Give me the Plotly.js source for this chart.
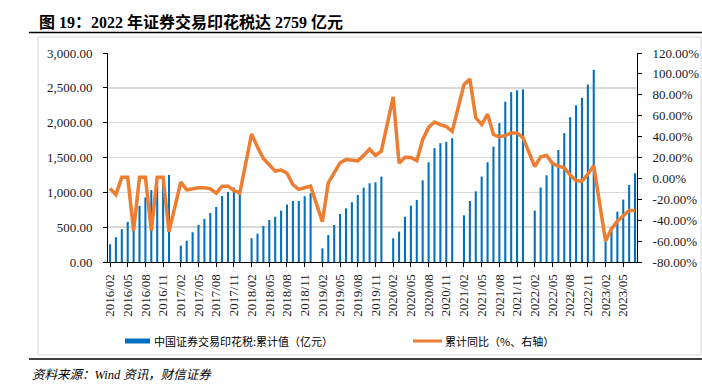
<!DOCTYPE html>
<html>
<head>
<meta charset="utf-8">
<script src="https://cdn.plot.ly/plotly-3.0.1.min.js"></script>
<style>
html,body{margin:0;padding:0;background:#fff;}
#chart{width:702px;height:385px;}
</style>
</head>
<body>
<div id="chart"></div>
<script>
// Months (category axis), January has no data (Jan-Feb reported together)
const months = [
 "2016/02","2016/03","2016/04","2016/05","2016/06","2016/07","2016/08","2016/09","2016/10","2016/11","2016/12",
 "2017/01","2017/02","2017/03","2017/04","2017/05","2017/06","2017/07","2017/08","2017/09","2017/10","2017/11","2017/12",
 "2018/01","2018/02","2018/03","2018/04","2018/05","2018/06","2018/07","2018/08","2018/09","2018/10","2018/11","2018/12",
 "2019/01","2019/02","2019/03","2019/04","2019/05","2019/06","2019/07","2019/08","2019/09","2019/10","2019/11","2019/12",
 "2020/01","2020/02","2020/03","2020/04","2020/05","2020/06","2020/07","2020/08","2020/09","2020/10","2020/11","2020/12",
 "2021/01","2021/02","2021/03","2021/04","2021/05","2021/06","2021/07","2021/08","2021/09","2021/10","2021/11","2021/12",
 "2022/01","2022/02","2022/03","2022/04","2022/05","2022/06","2022/07","2022/08","2022/09","2022/10","2022/11","2022/12",
 "2023/01","2023/02","2023/03","2023/04","2023/05","2023/06","2023/07"
];

// 中国证券交易印花税:累计值（亿元）
const stampTaxCum = [
 255, 356, 471, 576, 690, 806, 927, 1032, 1100, 1180, 1250,
 null, 234, 306, 427, 532, 618, 704, 790, 948, 1006, 1068, 985,
 null, 341, 407, 517, 603, 651, 737, 825, 876, 876, 944, 987,
 null, 197, 388, 532, 690, 771, 858, 963, 1068, 1130, 1145, 1226,
 null, 340, 436, 651, 809, 891, 1173, 1432, 1634, 1705, 1726, 1777,
 null, 670, 876, 1015, 1226, 1432, 1657, 1993, 2301, 2438, 2465, 2478,
 null, 737, 1070, 1245, 1399, 1609, 1849, 2079, 2250, 2356, 2548, 2759,
 null, 295, 488, 723, 896, 1106, 1274
];

// 累计同比（%、右轴）
const yoyCum = [
 -9.5, -15.5, 1, 1, -50, 1, 1, -50, 1, 1, -51,
 null, -3.6, -11, -10, -9, -9, -10, -14, -7.4, -7.4, -11.5, -14,
 null, 42.5, 30, 19, 13, 7, 8, 5, -6, -10.5, -9, -7.4,
 null, -41.5, -4.2, 5.3, 15, 18, 17.2, 16.8, 22, 28, 22, 26,
 null, 78, 14.6, 20.2, 20, 17, 37, 48.8, 54, 51.5, 49.7, 45,
 null, 89.7, 95, 58, 51.5, 61.5, 42, 39.7, 41, 43.5, 43.5, 39,
 null, 11.3, 20.6, 22, 14.5, 11.7, 10.1, 3.2, -2, -2.7, 4, 12,
 null, -60, -48.4, -41, -35.7, -30.6, -30.6
];

const xTickVals = [
 "2016/02","2016/05","2016/08","2016/11","2017/02","2017/05","2017/08","2017/11",
 "2018/02","2018/05","2018/08","2018/11","2019/02","2019/05","2019/08","2019/11",
 "2020/02","2020/05","2020/08","2020/11","2021/02","2021/05","2021/08","2021/11",
 "2022/02","2022/05","2022/08","2022/11","2023/02","2023/05"
];
const y2TickVals = [-80, -60, -40, -20, 0, 20, 40, 60, 80, 100, 120];
const y2TickText = ["-80.00%","-60.00%","-40.00%","-20.00%","0.00%","20.00%","40.00%","60.00%","80.00%","100.00%","120.00%"];

const barName = "中国证券交易印花税:累计值（亿元）";
const lineName = "累计同比（%、右轴）";
const titleText = "图 19：2022 年证券交易印花税达 2759 亿元";
const sourceText = "资料来源：Wind 资讯，财信证券";

const BLUE = "#0070C0";
const ORANGE = "#ED7D31";
const serif = "Liberation Serif, Times New Roman, serif";
const cjkSans = "Noto Sans CJK SC, sans-serif";

// plot area in pixels: x 108..637, y 53..262
const L = 108, R = 637, T = 53, B = 262;
const W = 702, H = 385;
const px = x => (x - L) / (R - L);
const py = y => (B - y) / (B - T);

const traces = [
 {
  type: "bar", x: months, y: stampTaxCum, name: barName,
  marker: {color: BLUE, line: {width: 0}},
  yaxis: "y", hoverinfo: "skip"
 },
 {
  type: "scatter", mode: "lines", x: months, y: yoyCum, name: lineName,
  line: {color: ORANGE, width: 3.5}, connectgaps: true,
  yaxis: "y2", hoverinfo: "skip"
 }
];

const layout = {
 width: W, height: H,
 margin: {l: L, r: W - R, t: T, b: H - B, pad: 0},
 paper_bgcolor: "#fff", plot_bgcolor: "#fff",
 showlegend: false,
 bargap: 0.65,
 title: {
  text: "<b>" + titleText + "</b>",
  x: 39 / W, xanchor: "left", xref: "container",
  y: 1 - 22.5 / H, yanchor: "middle", yref: "container",
  font: {family: "Liberation Serif, Noto Sans CJK SC", size: 16, color: "#000"}
 },
 xaxis: {
  type: "category",
  range: [-0.34, 89.33],
  tickmode: "array", tickvals: xTickVals, ticktext: xTickVals,
  tickangle: -90,
  ticks: "outside", ticklen: 4, tickcolor: "#000", tickwidth: 1,
  showline: true, linecolor: "#000", linewidth: 1,
  showgrid: false, zeroline: false,
  tickfont: {family: serif, size: 13, color: "#1a1a1a"},
  ticklabelstandoff: 2
 },
 yaxis: {
  range: [0, 3000], tick0: 0, dtick: 500,
  tickformat: ",.2f",
  ticks: "outside", ticklen: 4, tickcolor: "#000",
  showline: true, linecolor: "#000", linewidth: 1,
  showgrid: true, gridcolor: "#D9D9D9", gridwidth: 1.5,
  zeroline: false,
  tickfont: {family: serif, size: 13, color: "#1a1a1a"},
  ticklabelstandoff: 8
 },
 yaxis2: {
  overlaying: "y", side: "right",
  range: [-80, 120],
  tickmode: "array", tickvals: y2TickVals, ticktext: y2TickText,
  ticks: "outside", ticklen: 4, tickcolor: "#000",
  showline: true, linecolor: "#000", linewidth: 1,
  showgrid: false, zeroline: false,
  tickfont: {family: serif, size: 13, color: "#1a1a1a"},
  ticklabelstandoff: 8
 },
 shapes: [
  // title underline
  {type: "line", xref: "paper", yref: "paper", x0: px(29), x1: px(702), y0: py(32.5), y1: py(32.5),
   line: {color: "#000", width: 1.5}},
  // light frame around chart
  {type: "rect", xref: "paper", yref: "paper", x0: px(38), x1: px(701), y0: py(355), y1: py(37),
   line: {color: "#D9D9D9", width: 1}, layer: "below"},
  // bottom rule above source
  {type: "line", xref: "paper", yref: "paper", x0: px(29), x1: px(702), y0: py(359), y1: py(359),
   line: {color: "#000", width: 1.5}},
  // legend: bar symbol
  {type: "rect", xref: "paper", yref: "paper", x0: px(125), x1: px(150), y0: py(343.5), y1: py(338.5),
   fillcolor: BLUE, line: {width: 0}},
  // legend: line symbol
  {type: "line", xref: "paper", yref: "paper", x0: px(413), x1: px(442), y0: py(341), y1: py(341),
   line: {color: ORANGE, width: 3}}
 ],
 annotations: [
  {xref: "paper", yref: "paper", x: px(152), y: py(341), xanchor: "left", yanchor: "middle",
   text: barName, showarrow: false, font: {family: cjkSans, size: 11, color: "#000"}},
  {xref: "paper", yref: "paper", x: px(443), y: py(341), xanchor: "left", yanchor: "middle",
   text: lineName, showarrow: false, font: {family: cjkSans, size: 11, color: "#000"}},
  {xref: "paper", yref: "paper", x: px(30), y: py(375), xanchor: "left", yanchor: "middle",
   text: "<i>" + sourceText + "</i>", showarrow: false,
   font: {family: "Liberation Serif, Noto Sans CJK SC", size: 12.5, color: "#000"}}
 ]
};

Plotly.newPlot("chart", traces, layout, {displayModeBar: false, staticPlot: true});
</script>
</body>
</html>
